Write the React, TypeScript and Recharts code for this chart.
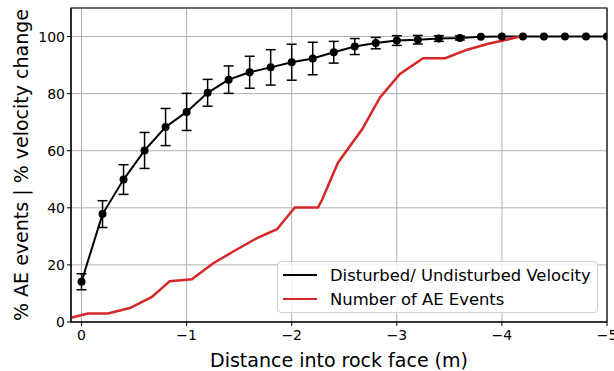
import React from 'react';
import {
  LineChart,
  Line,
  XAxis,
  YAxis,
  CartesianGrid,
  ErrorBar,
  ReferenceArea,
} from 'recharts';

// velocity ratio, sampled every 0.2 m
const velDistance = [
  0, -0.2, -0.4, -0.6, -0.8, -1.0, -1.2, -1.4, -1.6, -1.8, -2.0, -2.2, -2.4,
  -2.6, -2.8, -3.0, -3.2, -3.4, -3.6, -3.8, -4.0, -4.2, -4.4, -4.6, -4.8, -5.0,
];
const velPct = [
  14.1, 37.8, 49.9, 60.1, 68.3, 73.6, 80.3, 84.9, 87.5, 89.2, 91.0, 92.3, 94.5,
  96.5, 97.7, 98.6, 98.9, 99.3, 99.5, 99.9, 100, 100, 100, 100, 100, 100,
];
const velErr = [
  2.8, 4.7, 5.2, 6.3, 6.5, 6.5, 4.7, 4.8, 5.6, 6.2, 6.3, 5.7, 3.8, 2.8, 2.0,
  1.7, 1.5, 1.0, 0.7, 0, 0, 0, 0, 0, 0, 0,
];

// cumulative AE events
const aeDistance = [
  0.1, -0.06, -0.25, -0.46, -0.67, -0.84, -1.05, -1.25, -1.44, -1.67, -1.86,
  -2.03, -2.25, -2.29, -2.44, -2.67, -2.84, -3.03, -3.25, -3.46, -3.67, -3.86,
  -4.01, -4.17,
];
const aePct = [
  1.5, 3.0, 3.0, 4.9, 8.8, 14.3, 15.0, 20.5, 24.6, 29.4, 32.5, 40.1, 40.1, 42.9,
  55.8, 67.5, 78.7, 86.9, 92.4, 92.4, 95.4, 97.4, 98.6, 100,
];

const xTicks = [0, -1, -2, -3, -4, -5];
const yTicks = [0, 20, 40, 60, 80, 100];

const velData = velDistance.map((d, i) => ({ d, v: velPct[i], err: velErr[i] }));
const aeData = aeDistance.map((d, i) => ({ d, v: aePct[i] }));

const FONT = '"DejaVu Sans", sans-serif';
const RED = '#d62728';

const fmtX = (v: number) => (v < 0 ? `\u2212${Math.abs(v)}` : `${v}`);

const YLabel = ({ viewBox }: any) => {
  const cy = viewBox.y + viewBox.height / 2;
  return (
    <text
      x={21}
      y={cy}
      transform={`rotate(-90 21 ${cy})`}
      textAnchor="middle"
      dominantBaseline="central"
      fill="#000"
      fontSize={19}
      fontFamily={FONT}
    >
      % AE events | % velocity change
    </text>
  );
};

export default function App() {
  return (
    <div
      style={{
        position: 'absolute',
        left: 0,
        top: 0,
        width: 614,
        height: 371,
        overflow: 'hidden',
        fontFamily: FONT,
        background: '#fff',
      }}
    >
      <LineChart
        width={630}
        height={371}
        margin={{ top: 8, right: 23, left: 0, bottom: 0 }}
      >
        <CartesianGrid stroke="#b0b0b0" strokeWidth={1} />
        <XAxis
          dataKey="d"
          type="number"
          domain={[-5, 0.1]}
          reversed
          ticks={xTicks}
          tickFormatter={fmtX}
          height={49}
          allowDataOverflow
          tick={{ fill: '#000', fontSize: 14, fontFamily: FONT }}
          tickSize={4}
          tickMargin={4}
          stroke="#000"
          label={{
            value: 'Distance into rock face (m)',
            position: 'insideBottom',
            offset: 4,
            fill: '#000',
            fontSize: 19,
            fontFamily: FONT,
          }}
        />
        <YAxis
          type="number"
          domain={[0, 110]}
          ticks={yTicks}
          width={71}
          allowDataOverflow
          tick={{ fill: '#000', fontSize: 14, fontFamily: FONT }}
          tickSize={4}
          stroke="#000"
          label={<YLabel />}
        />
        <ReferenceArea
          x1={0.1}
          x2={-5}
          y1={0}
          y2={110}
          fill="none"
          stroke="#000"
          strokeWidth={1.2}
        />
        <Line
          data={velData}
          dataKey="v"
          stroke="#000"
          strokeWidth={2}
          dot={{ r: 4, fill: '#000', stroke: '#000', strokeWidth: 0 }}
          isAnimationActive={false}
        >
          <ErrorBar
            dataKey="err"
            width={5}
            stroke="#000"
            strokeWidth={1.5}
            direction="y"
            isAnimationActive={false}
          />
        </Line>
        <Line
          data={aeData}
          dataKey="v"
          stroke={RED}
          strokeWidth={2.5}
          dot={false}
          isAnimationActive={false}
        />
      </LineChart>
      <div
        style={{
          position: 'absolute',
          left: 277,
          top: 261,
          width: 321,
          height: 52,
          border: '1px solid #d0d0d0',
          borderRadius: 4,
          background: 'rgba(255,255,255,0.8)',
          boxSizing: 'border-box',
          fontSize: 16.4,
          color: '#000',
        }}
      >
        {[
          { label: 'Disturbed/ Undisturbed Velocity', color: '#000' },
          { label: 'Number of AE Events', color: RED },
        ].map((item, i) => (
          <div
            key={item.label}
            style={{
              position: 'absolute',
              left: 5,
              top: 3 + i * 24,
              height: 20,
              display: 'flex',
              alignItems: 'center',
              whiteSpace: 'nowrap',
            }}
          >
            <span
              style={{
                display: 'inline-block',
                width: 34,
                height: 2.5,
                background: item.color,
                marginRight: 13,
              }}
            />
            {item.label}
          </div>
        ))}
      </div>
    </div>
  );
}
